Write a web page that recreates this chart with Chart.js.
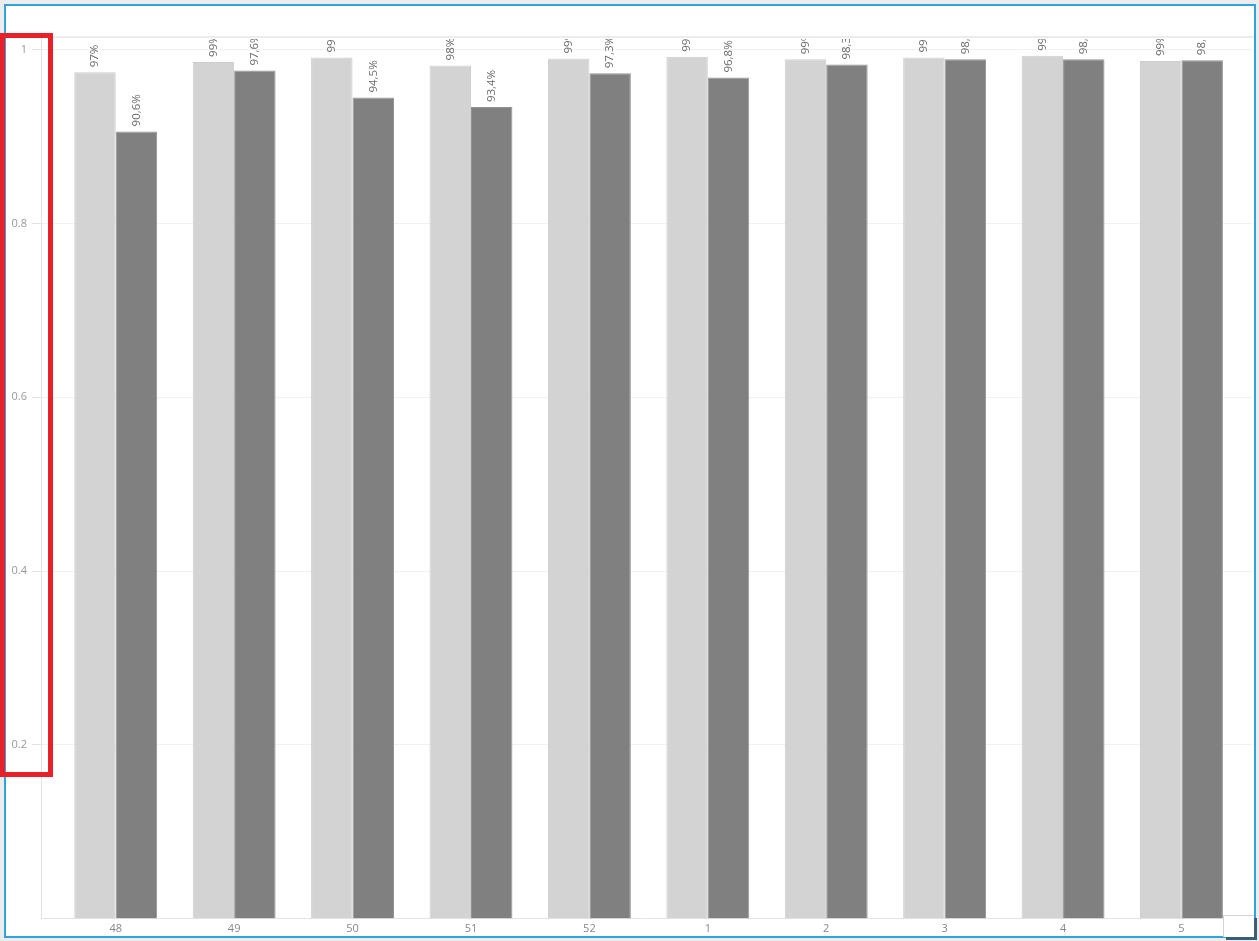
<!DOCTYPE html>
<html>
<head>
<meta charset="utf-8">
<script src="https://cdn.jsdelivr.net/npm/chart.js@4.4.1/dist/chart.umd.min.js"></script>
<style>
  html, body { margin: 0; padding: 0; background: #ececec; }
  body { width: 1259px; height: 941px; position: relative; overflow: hidden; }
  #frame { position: absolute; left: 4px; top: 4px; width: 1248px; height: 930px; border: 2px solid #2ea4dd; background: #fff; }
  #frame canvas { display: block; }
  #mark { position: absolute; left: 0; top: 33px; width: 53px; height: 744px; box-sizing: border-box; border: 5px solid #e8202a; }
  #grip { position: absolute; left: 1223px; top: 915px; width: 30px; height: 21px; background: #fff;
          border-top: 1px solid #d4d4d4; border-left: 1px solid #d4d4d4; box-shadow: 3px 3px 0 #3b5d75; }
</style>
</head>
<body>
<div id="frame"><canvas id="weekChart" width="1248" height="930"></canvas></div>
<div id="grip"></div>
<div id="mark"></div>
<script>
const weeks = ['48', '49', '50', '51', '52', '1', '2', '3', '4', '5'];
const seriesLight = [0.974, 0.986, 0.991, 0.982, 0.990, 0.992, 0.989, 0.991, 0.993, 0.987];
const seriesDark = [0.906, 0.976, 0.945, 0.934, 0.973, 0.968, 0.983, 0.989, 0.989, 0.988];
const yTicks = [0.2, 0.4, 0.6, 0.8, 1];
const yTickLabels = ['0.2', '0.4', '0.6', '0.8', '1'];

const fmtWhole = v => Math.round(v * 100) + '%';
const fmtOne = v => (v * 100).toFixed(1).replace('.', ',') + '%';

// rotated value labels above the bars, cut off at the top of the plot
const barLabels = {
    id: 'barLabels',
    afterDatasetsDraw(chart) {
        const { ctx, chartArea } = chart;
        ctx.save();
        ctx.beginPath();
        ctx.rect(chartArea.left, chartArea.top + 2, chartArea.right - chartArea.left, chartArea.bottom - chartArea.top);
        ctx.clip();
        ctx.font = '11.5px "Open Sans", sans-serif';
        ctx.fillStyle = '#6b6b6b';
        ctx.textAlign = 'left';
        ctx.textBaseline = 'middle';
        chart.data.datasets.forEach((ds, di) => {
            const meta = chart.getDatasetMeta(di);
            meta.data.forEach((bar, i) => {
                ctx.save();
                ctx.translate(bar.x, bar.y - 5);
                ctx.rotate(-Math.PI / 2);
                ctx.fillText(ds.fmt(ds.data[i].y), 0, 0);
                ctx.restore();
            });
        });
        ctx.restore();
    },
    beforeDraw(chart) {
        const { ctx, chartArea, width } = chart;
        ctx.save();
        ctx.strokeStyle = '#ececec';
        ctx.lineWidth = 2;
        ctx.beginPath();
        ctx.moveTo(0, chartArea.top);
        ctx.lineTo(width, chartArea.top);
        ctx.stroke();
        ctx.restore();
    }
};

const ctx = document.getElementById('weekChart').getContext('2d');

new Chart(ctx, {
    type: 'bar',
    data: {
        datasets: [{
            data: seriesLight.map((v, i) => ({ x: i, y: v })),
            backgroundColor: '#d3d3d3',
            borderColor: '#cdcdcd',
            borderWidth: 1,
            categoryPercentage: 0.7,
            barPercentage: 1,
            fmt: fmtWhole
        }, {
            data: seriesDark.map((v, i) => ({ x: i, y: v })),
            backgroundColor: '#808080',
            borderColor: '#939393',
            borderWidth: 1,
            categoryPercentage: 0.7,
            barPercentage: 1,
            fmt: fmtOne
        }]
    },
    options: {
        responsive: false,
        devicePixelRatio: 1,
        animation: false,
        layout: { padding: { top: 31, right: 1, left: 0, bottom: 0 } },
        plugins: {
            legend: { display: false },
            tooltip: { enabled: false }
        },
        scales: {
            x: {
                type: 'linear',
                min: -0.631,
                max: 9.604,
                offset: false,
                afterBuildTicks: s => { s.ticks = weeks.map((w, i) => ({ value: i })); },
                afterFit: s => { s.height = 17.5; },
                grid: { color: 'rgba(0,0,0,0)', drawTicks: false },
                border: { display: true, color: '#e3e3e3' },
                ticks: {
                    color: '#888',
                    padding: 4,
                    maxRotation: 0,
                    autoSkip: false,
                    font: { family: '"Open Sans", sans-serif', size: 11 },
                    callback: v => weeks[v]
                }
            },
            y: {
                min: 0,
                max: 1.0147,
                afterBuildTicks: s => { s.ticks = yTicks.map(v => ({ value: v })); },
                afterFit: s => { s.width = 35; },
                grid: { color: '#f1f1f1', tickLength: 9, tickColor: '#e2e2e2' },
                border: { color: '#e3e3e3' },
                ticks: {
                    color: '#999',
                    padding: 5,
                    font: { family: '"Open Sans", sans-serif', size: 11 },
                    callback: (v, i) => yTickLabels[i]
                }
            }
        }
    },
    plugins: [barLabels]
});
</script>
</body>
</html>
